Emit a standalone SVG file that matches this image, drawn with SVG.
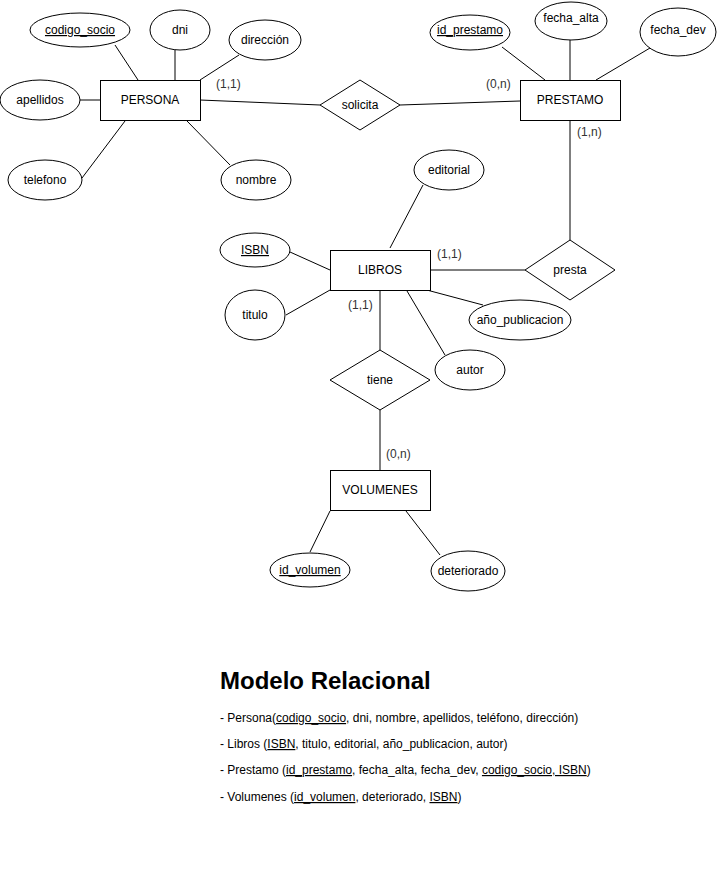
<svg xmlns="http://www.w3.org/2000/svg" width="721" height="892" viewBox="0 0 721 892">
<style>
  .s { fill: #ffffff; stroke: #000000; stroke-width: 1; }
  .c { fill: none; stroke: #000000; stroke-width: 1; }
  text { font-family: "Liberation Sans", Arial, Helvetica, sans-serif; font-size: 12px; fill: #000000; }
  .l { text-anchor: middle; }
  .k { text-decoration: underline; }
  .card { fill: #333333; }
  .title { font-size: 24px; font-weight: bold; }
</style>
<rect x="0" y="0" width="721" height="892" fill="#ffffff"/>
<g id="connectors">
  <line class="c" x1="115" y1="45" x2="138" y2="80"/>
  <line class="c" x1="175" y1="50" x2="175" y2="80"/>
  <line class="c" x1="239" y1="55" x2="200" y2="80"/>
  <line class="c" x1="80" y1="100" x2="100" y2="100"/>
  <line class="c" x1="125" y1="121" x2="82" y2="178"/>
  <line class="c" x1="187" y1="121" x2="230" y2="165"/>
  <line class="c" x1="200" y1="100" x2="320" y2="105"/>
  <line class="c" x1="400" y1="105" x2="520" y2="101"/>
  <line class="c" x1="502" y1="47" x2="545" y2="80"/>
  <line class="c" x1="570" y1="40" x2="570" y2="80"/>
  <line class="c" x1="650" y1="48" x2="596" y2="80"/>
  <line class="c" x1="570" y1="120" x2="570" y2="240"/>
  <line class="c" x1="430" y1="270" x2="525" y2="270"/>
  <line class="c" x1="423" y1="185" x2="390" y2="248"/>
  <line class="c" x1="290" y1="252" x2="330" y2="270"/>
  <line class="c" x1="286" y1="315" x2="330" y2="290"/>
  <line class="c" x1="423" y1="289" x2="483" y2="305"/>
  <line class="c" x1="407" y1="291" x2="445" y2="355"/>
  <line class="c" x1="380" y1="290" x2="380" y2="350"/>
  <line class="c" x1="380" y1="410" x2="380" y2="470"/>
  <line class="c" x1="330" y1="511" x2="310" y2="552"/>
  <line class="c" x1="406" y1="511" x2="440" y2="555"/>
  <text class="card" x="216" y="88">(1,1)</text>
  <text class="card" x="486" y="88">(0,n)</text>
  <text class="card" x="577" y="136">(1,n)</text>
  <text class="card" x="437" y="258">(1,1)</text>
  <text class="card" x="348" y="309">(1,1)</text>
  <text class="card" x="386" y="458">(0,n)</text>
</g>
<g id="persona"><rect class="s" x="100.5" y="80.5" width="100" height="40"/><text class="l" x="150" y="104">PERSONA</text></g>
<g id="codigo_socio"><ellipse class="s" cx="80" cy="30" rx="50" ry="17"/><text class="l k" x="80" y="34">codigo_socio</text></g>
<g id="dni"><ellipse class="s" cx="180" cy="30" rx="30" ry="20"/><text class="l" x="180" y="34">dni</text></g>
<g id="direccion"><ellipse class="s" cx="265" cy="40" rx="36" ry="20"/><text class="l" x="265" y="44">dirección</text></g>
<g id="apellidos"><ellipse class="s" cx="40" cy="100" rx="40" ry="20"/><text class="l" x="40" y="104">apellidos</text></g>
<g id="telefono"><ellipse class="s" cx="45" cy="180" rx="37" ry="20"/><text class="l" x="45" y="184">telefono</text></g>
<g id="nombre"><ellipse class="s" cx="256" cy="180" rx="35" ry="20"/><text class="l" x="256" y="184">nombre</text></g>
<g id="solicita"><polygon class="s" points="360,80 400,105 360,130 320,105"/><text class="l" x="360" y="109">solicita</text></g>
<g id="prestamo"><rect class="s" x="520.5" y="80.5" width="100" height="40"/><text class="l" x="570" y="104">PRESTAMO</text></g>
<g id="id_prestamo"><ellipse class="s" cx="470" cy="32.5" rx="40" ry="17.5"/><text class="l k" x="470" y="34">id_prestamo</text></g>
<g id="fecha_alta"><ellipse class="s" cx="571" cy="21" rx="36" ry="19"/><text class="l" x="571" y="22">fecha_alta</text></g>
<g id="fecha_dev"><ellipse class="s" cx="678" cy="32" rx="38" ry="24"/><text class="l" x="678" y="34">fecha_dev</text></g>
<g id="presta"><polygon class="s" points="570,240 615,270 570,300 525,270"/><text class="l" x="570" y="274">presta</text></g>
<g id="libros"><rect class="s" x="330.5" y="250.5" width="100" height="40"/><text class="l" x="380" y="274">LIBROS</text></g>
<g id="editorial"><ellipse class="s" cx="449" cy="170" rx="35" ry="20"/><text class="l" x="449" y="174">editorial</text></g>
<g id="isbn"><ellipse class="s" cx="255" cy="250" rx="35" ry="17"/><text class="l k" x="255" y="254">ISBN</text></g>
<g id="titulo"><ellipse class="s" cx="255" cy="315" rx="30" ry="25"/><text class="l" x="255" y="319">titulo</text></g>
<g id="anio_publicacion"><ellipse class="s" cx="520" cy="320" rx="51" ry="20"/><text class="l" x="520" y="324">año_publicacion</text></g>
<g id="autor"><ellipse class="s" cx="470" cy="370" rx="35" ry="20"/><text class="l" x="470" y="374">autor</text></g>
<g id="tiene"><polygon class="s" points="380,350 430,380 380,410 330,380"/><text class="l" x="380" y="384">tiene</text></g>
<g id="volumenes"><rect class="s" x="330.5" y="470.5" width="100" height="40"/><text class="l" x="380" y="494">VOLUMENES</text></g>
<g id="id_volumen"><ellipse class="s" cx="310" cy="570" rx="40" ry="17"/><text class="l k" x="310" y="574">id_volumen</text></g>
<g id="deteriorado"><ellipse class="s" cx="468" cy="571" rx="37" ry="20"/><text class="l" x="468" y="575">deteriorado</text></g>
<g id="modelo_relacional">
  <text class="title" x="220" y="689">Modelo Relacional</text>
  <text x="220" y="722">- Persona(<tspan class="k">codigo_socio</tspan>, dni, nombre, apellidos, teléfono, dirección)</text>
  <text x="220" y="748">- Libros (<tspan class="k">ISBN</tspan>, titulo, editorial, año_publicacion, autor)</text>
  <text x="220" y="774">- Prestamo (<tspan class="k">id_prestamo</tspan>, fecha_alta, fecha_dev, <tspan class="k">codigo_socio, ISBN</tspan>)</text>
  <text x="220" y="801">- Volumenes (<tspan class="k">id_volumen</tspan>, deteriorado, <tspan class="k">ISBN</tspan>)</text>
</g>
</svg>
